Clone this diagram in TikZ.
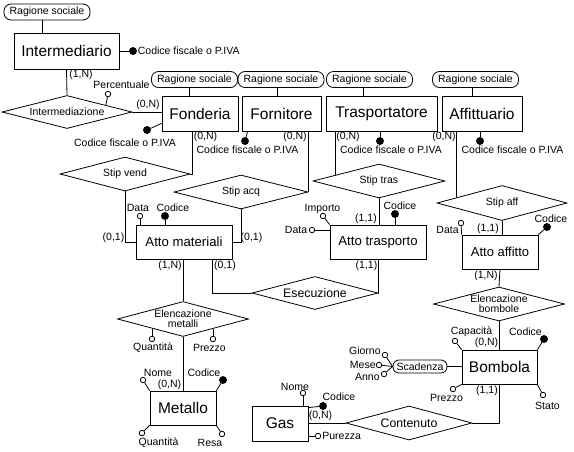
\documentclass[tikz,border=0pt]{standalone}
\usepackage{fontspec}
\setmainfont{Liberation Sans}
\usetikzlibrary{shapes.geometric}

\tikzset{
  entity/.style={draw, inner sep=0pt, font=\fontsize{15.5}{16}\selectfont},
  relation/.style={draw, diamond, shape aspect=3.8, inner sep=0pt,
    align=center, font=\fontsize{10.5}{10}\selectfont},
  compound/.style={draw, rounded corners=7pt, inner sep=0pt,
    minimum width=86pt, minimum height=16pt, font=\fontsize{10.5}{11}\selectfont},
  attr/.style={circle, draw, fill=white, inner sep=0pt, minimum size=5.5pt},
  keyattr/.style={circle, draw, fill=black, inner sep=0pt, minimum size=7pt},
  txt/.style={inner sep=0pt, font=\fontsize{10.5}{11}\selectfont},
}

\begin{document}
\begin{tikzpicture}[x=1pt, y=-1pt, line width=0.8pt]
  \useasboundingbox (0,0) rectangle (574,451);

  % Entities
  \node[entity, minimum width=105pt, minimum height=36pt] (inter) at (66.5,51) {Intermediario};
  \node[entity, minimum width=76pt, minimum height=35pt] (fond) at (200,113.5) {Fonderia};
  \node[entity, minimum width=79pt, minimum height=35pt] (forn) at (281.5,113.5) {Fornitore};
  \node[entity, minimum width=111pt, minimum height=35pt] (trasp) at (381.5,113.5) {Trasportatore};
  \node[entity, minimum width=80pt, minimum height=35pt] (affit) at (482,113.5) {Affittuario};
  \node[entity, minimum width=96pt, minimum height=34pt, font=\fontsize{13.2}{14}\selectfont] (atmat) at (184,242) {Atto materiali};
  \node[entity, minimum width=96pt, minimum height=34pt, font=\fontsize{13.2}{14}\selectfont] (attrasp) at (378,242) {Atto trasporto};
  \node[entity, minimum width=76pt, minimum height=34pt, font=\fontsize{13}{14}\selectfont] (ataff) at (500,252) {Atto affitto};
  \node[entity, minimum width=75pt, minimum height=34pt] (bomb) at (499.5,367) {Bombola};
  \node[entity, minimum width=66pt, minimum height=34pt] (met) at (183,408) {Metallo};
  \node[entity, minimum width=56pt, minimum height=35pt] (gas) at (280,423.5) {Gas};

  % Relationships
  \node[relation, minimum width=130pt, minimum height=33pt] (intermed) at (67,112) {Intermediazione};
  \node[relation, minimum width=130pt, minimum height=34pt] (stipvend) at (125,174) {Stip vend};
  \node[relation, minimum width=134pt, minimum height=34pt] (stipacq) at (241,192) {Stip acq};
  \node[relation, minimum width=132pt, minimum height=34pt] (stiptras) at (379,181) {Stip tras};
  \node[relation, minimum width=130pt, minimum height=35pt] (stipaff) at (502,203) {Stip aff};
  \node[relation, minimum width=126pt, minimum height=33pt, font=\fontsize{12.3}{13}\selectfont] (esec) at (315,293) {Esecuzione};
  \node[relation, minimum width=131pt, minimum height=35pt] (elm) at (183,319) {Elencazione\\metalli};
  \node[relation, minimum width=131pt, minimum height=34pt] (elb) at (499,304) {Elencazione\\bombole};
  \node[relation, minimum width=126pt, minimum height=34pt, font=\fontsize{12.3}{13}\selectfont] (cont) at (409,423) {Contenuto};

  % Composite attributes
  \node[compound] (rsinter) at (47,12) {Ragione sociale};
  \node[compound] (rsfond) at (194.5,79.5) {Ragione sociale};
  \node[compound] (rsforn) at (281,79.5) {Ragione sociale};
  \node[compound] (rstrasp) at (369.5,79.5) {Ragione sociale};
  \node[compound] (rsaffit) at (475.5,79.5) {Ragione sociale};
  \node[compound, minimum width=54pt, minimum height=13pt, rounded corners=6pt] (scad) at (420,366.5) {Scadenza};

  \draw ([xshift=-5pt]rsinter.south) -- ([xshift=-5pt]rsinter.south |- inter.north);
  \draw ([xshift=-5.5pt]rsfond.south) -- ([xshift=-5.5pt]rsfond.south |- fond.north);
  \draw ([xshift=-4pt]rsforn.south) -- ([xshift=-4pt]rsforn.south |- forn.north);
  \draw ([xshift=-6.5pt]rstrasp.south) -- ([xshift=-6.5pt]rstrasp.south |- trasp.north);
  \draw ([xshift=-3.5pt]rsaffit.south) -- ([xshift=-3.5pt]rsaffit.south |- affit.north);

  % Links
  \draw (inter.south) -- (intermed.north);
  \draw (intermed.east) -- (intermed.east -| fond.west);
  \draw ([xshift=-8pt]fond.south) |- (stipvend.east);
  \draw (stipacq.east) -- (stipacq.east |- forn.south);
  \draw (stiptras.172) -- (stiptras.172 |- trasp.south);
  \draw (stipaff.173) -- (stipaff.173 |- affit.south);
  \draw (stipvend.south) |- (atmat.west);
  \draw (stipacq.south) |- (atmat.east);
  \draw (stiptras.south) -- (stiptras.south |- attrasp.north);
  \draw (stipaff.south) -- (stipaff.south |- ataff.north);
  \draw (atmat.south -| elm.north) -- (elm.north);
  \draw ([xshift=28pt]atmat.south) |- (esec.west);
  \draw (esec.east) -| (attrasp.south);
  \draw (ataff.south) -- (elb.north);
  \draw (elb.south) -- (elb.south |- bomb.north);
  \draw (bomb.south) |- (cont.east);
  \draw (gas.east |- cont.west) -- (cont.west);
  \draw (elm.south) -- (met.north);
  \draw (scad.east) -- (scad.east -| bomb.west);

  % Cardinalities
  \node[txt] (cinter) at (81,75) {(1,N)};
  \node[txt] (cfonda) at (148,105) {(0,N)};
  \node[txt] (cfondb) at (205.5,137) {(0,N)};
  \node[txt] (cforn) at (295,137) {(0,N)};
  \node[txt] (ctrasp) at (348,137) {(0,N)};
  \node[txt] (caffit) at (444,137) {(0,N)};
  \node[txt] (cama) at (113.5,238) {(0,1)};
  \node[txt] (camb) at (251.5,238) {(0,1)};
  \node[txt] (camc) at (170,266) {(1,N)};
  \node[txt] (camd) at (225,266) {(0,1)};
  \node[txt] (cata) at (366,219) {(1,1)};
  \node[txt] (catb) at (366.5,266) {(1,1)};
  \node[txt] (cafa) at (488,229) {(1,1)};
  \node[txt] (cafb) at (486,276) {(1,N)};
  \node[txt] (cboa) at (486.5,343) {(0,N)};
  \node[txt] (cbob) at (487,391) {(1,1)};
  \node[txt] (cgas) at (320.5,416) {(0,N)};
  \node[txt] (cmet) at (169.5,385) {(0,N)};

  % Attributes
  \node[keyattr] (kinter) at (133,51) {};
  \node[txt, anchor=west] (tkinter) at (137.5,51) {Codice fiscale o P.IVA};
  \draw (inter.east |- kinter) -- (kinter);
  \node[attr] (pperc) at (108,94) {};
  \node[txt] (tpperc) at (121.5,85) {Percentuale};
  \draw (intermed.10) -- (pperc);

  \node[keyattr] (kfond) at (147,130) {};
  \node[txt] (tkfond) at (125,143) {Codice fiscale o P.IVA};
  \draw ([yshift=8pt]fond.south west) -- (kfond);
  \node[keyattr] (kforn) at (245,141) {};
  \node[txt] (tkforn) at (247.5,150) {Codice fiscale o P.IVA};
  \draw ([xshift=6pt]forn.south west) -- (kforn);
  \node[keyattr] (ktrasp) at (380,141) {};
  \node[txt] (tktrasp) at (391,149.5) {Codice fiscale o P.IVA};
  \draw (ktrasp |- trasp.south) -- (ktrasp);
  \node[keyattr] (kaffit) at (480,141) {};
  \node[txt] (tkaffit) at (512.5,150) {Codice fiscale o P.IVA};
  \draw (kaffit |- affit.south) -- (kaffit);

  % Atto materiali
  \node[attr] (pdatam) at (140,216) {};
  \node[txt] (tpdatam) at (138,208) {Data};
  \draw (pdatam |- atmat.north) -- (pdatam);
  \node[keyattr] (kam) at (165,216) {};
  \node[txt] (tkam) at (173,208) {Codice};
  \draw (kam |- atmat.north) -- (kam);

  % Atto trasporto
  \node[attr] (pimp) at (323,216) {};
  \node[txt] (tpimp) at (322.5,208.5) {Importo};
  \draw (attrasp.north west) -- (pimp);
  \node[attr] (pdatat) at (312,230) {};
  \node[txt, anchor=east] (tpdatat) at (307.5,230) {Data};
  \draw (pdatat -| attrasp.west) -- (pdatat);
  \node[keyattr] (kat) at (395,214) {};
  \node[txt] (tkat) at (400,206) {Codice};
  \draw (kat |- attrasp.north) -- (kat);

  % Atto affitto
  \node[attr] (pdataf) at (461,223) {};
  \node[txt, anchor=east] (tpdataf) at (459,230) {Data};
  \draw (ataff.north west) -- (pdataf);
  \node[keyattr] (kaf) at (547,227) {};
  \node[txt] (tkaf) at (551,219) {Codice};
  \draw (ataff.north east) -- (kaf);

  % Bombola
  \node[attr] (pcap) at (455,341) {};
  \node[txt] (tpcap) at (471.5,332) {Capacità};
  \draw (bomb.north west) -- (pcap);
  \node[keyattr] (kbomb) at (544,339) {};
  \node[txt] (tkbomb) at (525.5,332) {Codice};
  \draw (bomb.north east) -- (kbomb);
  \node[attr] (pprb) at (453,389) {};
  \node[txt] (tpprb) at (446.5,398) {Prezzo};
  \draw (bomb.south west) -- (pprb);
  \node[attr] (pstato) at (543,395) {};
  \node[txt] (tpstato) at (547.5,406) {Stato};
  \draw (bomb.south east) -- (pstato);

  % Scadenza
  \node[attr] (pgio) at (385,355) {};
  \node[txt, anchor=east] (tpgio) at (381,351) {Giorno};
  \node[attr] (pmes) at (379,365) {};
  \node[txt, anchor=east] (tpmes) at (376,365) {Mese};
  \node[attr] (panno) at (384,374) {};
  \node[txt, anchor=east] (tpanno) at (380,377) {Anno};
  \draw (scad.west) -- (pgio);
  \draw (scad.west) -- (pmes);
  \draw (scad.west) -- (panno);

  % Gas
  \node[attr] (pnomg) at (303,393) {};
  \node[txt] (tpnomg) at (295,387) {Nome};
  \draw (pnomg |- gas.north) -- (pnomg);
  \node[keyattr] (kgas) at (323,406) {};
  \node[txt] (tkgas) at (339,397) {Codice};
  \draw ([yshift=-2pt]gas.north east) -- (kgas);
  \node[attr] (ppur) at (318,436) {};
  \node[txt, anchor=west] (tppur) at (322,436) {Purezza};
  \draw (ppur -| gas.east) -- (ppur);

  % Metallo
  \node[attr] (pnomm) at (143,380) {};
  \node[txt] (tpnomm) at (158,373) {Nome};
  \draw (met.north west) -- (pnomm);
  \node[keyattr] (kmet) at (223,380) {};
  \node[txt] (tkmet) at (204,373) {Codice};
  \draw (met.north east) -- (kmet);
  \node[attr] (pqtam) at (142,433) {};
  \node[txt] (tpqtam) at (158.5,443) {Quantità};
  \draw (met.south west) -- (pqtam);
  \node[attr] (presa) at (222,434) {};
  \node[txt] (tpresa) at (210,443) {Resa};
  \draw (met.south east) -- (presa);

  % Elencazione metalli
  \node[attr] (pqtae) at (152,339) {};
  \node[txt] (tpqtae) at (153,347.5) {Quantità};
  \draw (pqtae |- elm.197) -- (pqtae);
  \node[attr] (ppre) at (213,339) {};
  \node[txt] (tppre) at (209.5,347.5) {Prezzo};
  \draw (ppre |- elm.342) -- (ppre);
\end{tikzpicture}
\end{document}
